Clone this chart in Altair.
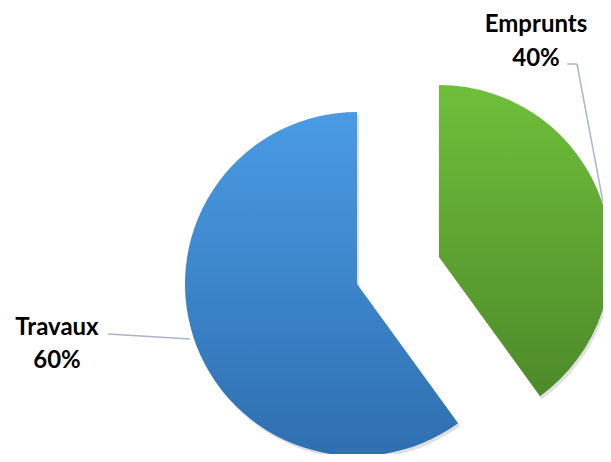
import altair as alt
import pandas as pd

categories = ["Emprunts", "Travaux"]
values = [40, 60]
order = [0, 1]

df = pd.DataFrame({"name": categories, "value": values, "order": order})

R = 172
FONT = "Lato"

base = (
    alt.Chart(df)
    .transform_window(end="sum(value)", sort=[alt.SortField("order")], frame=[None, 0])
    .transform_calculate(start="datum.end - datum.value", pct="datum.value + '%'")
)

theta = alt.Theta("start:Q", scale=alt.Scale(domain=[0, 100], range=[0, 6.283185307]))


def grad(top, bottom):
    return {
        "gradient": "linear",
        "x1": 0, "y1": 0, "x2": 0, "y2": 1,
        "stops": [{"offset": 0, "color": top}, {"offset": 1, "color": bottom}],
    }


def slice_layers(name, cx, cy, top, bottom):
    b = base.transform_filter(alt.datum.name == name)
    shadow = b.mark_arc(radius=R, color="#000000", opacity=0.12).encode(
        theta=theta, theta2="end:Q", x=alt.value(cx + 2), y=alt.value(cy + 3)
    )
    arc = b.mark_arc(radius=R, color=grad(top, bottom), strokeWidth=0).encode(
        theta=theta, theta2="end:Q", x=alt.value(cx), y=alt.value(cy)
    )
    return [shadow, arc]


layers = []
layers += slice_layers("Travaux", 349, 276, "#4A9BE4", "#2E6FB0")
layers += slice_layers("Emprunts", 431, 249, "#6FBF3B", "#4D8A29")

line_color = "#A9B6CC"
leader = [
    base.transform_filter(alt.datum.name == "Emprunts").mark_rule(color=line_color, strokeWidth=1.5).encode(
        x=alt.value(559), x2=alt.value(569), y=alt.value(56), y2=alt.value(56)),
    base.transform_filter(alt.datum.name == "Emprunts").mark_rule(color=line_color, strokeWidth=1.5).encode(
        x=alt.value(569), x2=alt.value(595), y=alt.value(56), y2=alt.value(194)),
    base.transform_filter(alt.datum.name == "Travaux").mark_rule(color=line_color, strokeWidth=1.5).encode(
        x=alt.value(100), x2=alt.value(182), y=alt.value(326), y2=alt.value(331)),
]


def label(name, cx, y1, y2):
    b = base.transform_filter(alt.datum.name == name)
    t1 = b.mark_text(font=FONT, fontSize=24, fontWeight="bold", color="#000000",
                     align="center", baseline="middle").encode(
        text="name:N", x=alt.value(cx), y=alt.value(y1))
    t2 = b.mark_text(font=FONT, fontSize=24, fontWeight="bold", color="#000000",
                     align="center", baseline="middle").encode(
        text="pct:N", x=alt.value(cx), y=alt.value(y2))
    return [t1, t2]


texts = label("Emprunts", 528, 17, 51) + label("Travaux", 49, 320, 353)

chart = alt.layer(*layers, *leader, *texts).properties(
    width=595, height=446, padding=0, autosize="none"
).configure_view(stroke=None)

chart.save("out.html", embed_options={"renderer": "svg", "actions": False})
